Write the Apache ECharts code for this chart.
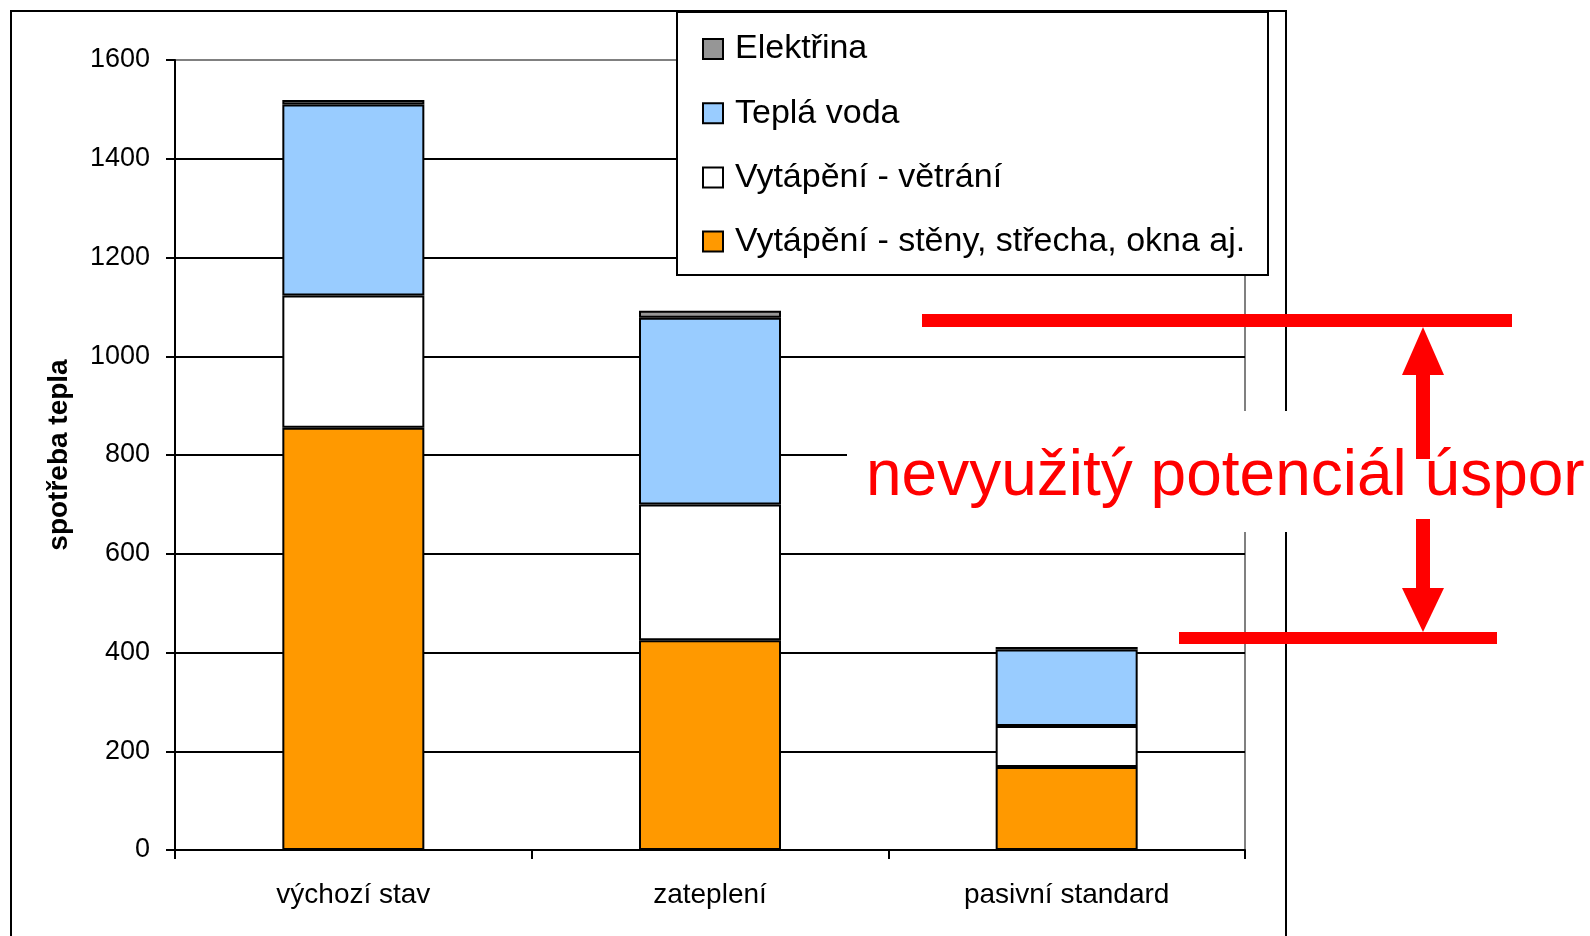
<!DOCTYPE html>
<html>
<head>
<meta charset="utf-8">
<script src="https://cdn.jsdelivr.net/npm/echarts@6/dist/echarts.min.js"></script>
<style>
  html, body { margin: 0; padding: 0; background: #fff; }
  #main { width: 1590px; height: 936px; }
</style>
</head>
<body>
<div id="main"></div>
<script>
var categories = ['výchozí stav', 'zateplení', 'pasivní standard'];
var steny = [855, 425, 168];      // Vytápění - stěny, střecha, okna aj.
var vetrani = [268, 275, 83];     // Vytápění - větrání
var teplaVoda = [387, 378, 155];  // Teplá voda
var elektrina = [9, 14, 5];       // Elektřina
var seriesNames = ['Vytápění - stěny, střecha, okna aj.', 'Vytápění - větrání', 'Teplá voda', 'Elektřina'];
var yTicks = [0, 200, 400, 600, 800, 1000, 1200, 1400, 1600];

var font = "'Liberation Sans', Arial, sans-serif";
var chart = echarts.init(document.getElementById('main'));

function bar(name, data, color) {
    return {
        name: name,
        type: 'bar',
        stack: 'total',
        barWidth: 142,
        data: data,
        itemStyle: { color: color, borderColor: '#000', borderWidth: 2 },
        emphasis: { disabled: true }
    };
}

var gridColors = yTicks.map(function (v, i) {
    return i === yTicks.length - 1 ? '#808080' : '#000';
});

var option = {
    animation: false,
    backgroundColor: '#fff',
    textStyle: { fontFamily: font },
    grid: {
        left: 175, right: 345, top: 60, bottom: 86,
        show: true, borderColor: '#808080', borderWidth: 2,
        backgroundColor: 'transparent'
    },
    legend: {
        orient: 'vertical',
        left: 697,
        top: 27,
        itemGap: 30.2,
        itemWidth: 20,
        itemHeight: 20,
        icon: 'rect',
        z: 6,
        selectedMode: false,
        data: seriesNames.slice().reverse(),
        itemStyle: { borderColor: '#000', borderWidth: 2 },
        textStyle: { fontSize: 34, color: '#000', fontFamily: font, padding: [0, 0, 0, 7] }
    },
    xAxis: {
        type: 'category',
        data: categories,
        axisLine: { lineStyle: { color: '#000', width: 2 } },
        axisTick: { show: true, length: 9, lineStyle: { color: '#000', width: 2 } },
        axisLabel: { fontSize: 28, color: '#000', margin: 31, fontFamily: font }
    },
    yAxis: {
        type: 'value',
        min: 0, max: 1600, interval: 200,
        name: 'spotřeba tepla',
        nameLocation: 'middle',
        nameGap: 102,
        nameRotate: 90,
        nameTextStyle: { fontSize: 28, fontWeight: 'bold', color: '#000', fontFamily: font },
        axisLine: { show: true, lineStyle: { color: '#000', width: 2 } },
        axisTick: { show: true, length: 9, lineStyle: { color: '#000', width: 2 } },
        axisLabel: {
            fontSize: 27, color: '#000', margin: 25, fontFamily: font,
            formatter: function (v) { return String(v); }
        },
        splitLine: { show: true, lineStyle: { color: gridColors, width: 2 } }
    },
    series: [
        bar(seriesNames[0], steny, '#FF9900'),
        bar(seriesNames[1], vetrani, '#FFFFFF'),
        bar(seriesNames[2], teplaVoda, '#99CCFF'),
        bar(seriesNames[3], elektrina, '#969696')
    ],
    graphic: [
        // outer chart frame
        { type: 'rect', z: 1, silent: true, shape: { x: 11, y: 11, width: 1275, height: 1000 },
          style: { fill: 'none', stroke: '#000', lineWidth: 2 } },
        // legend frame
        { type: 'rect', z: 5, silent: true, shape: { x: 677, y: 12, width: 591, height: 263 },
          style: { fill: '#fff', stroke: '#000', lineWidth: 2 } },
        // annotation
        { type: 'rect', z: 10, silent: true, shape: { x: 847, y: 411, width: 760, height: 121 },
          style: { fill: '#fff' } },
        { type: 'text', z: 11, silent: true, x: 866, y: 477,
          style: { text: 'nevyužitý potenciál úspor', fill: '#FF0000', font: '64px ' + font, verticalAlign: 'middle' } },
        { type: 'rect', z: 12, silent: true, shape: { x: 922, y: 314, width: 590, height: 13 },
          style: { fill: '#FF0000' } },
        { type: 'polygon', z: 12, silent: true, shape: { points: [[1423, 327], [1444, 375], [1402, 375]] },
          style: { fill: '#FF0000' } },
        { type: 'rect', z: 12, silent: true, shape: { x: 1416, y: 374, width: 14, height: 85 },
          style: { fill: '#FF0000' } },
        { type: 'rect', z: 12, silent: true, shape: { x: 1416, y: 519, width: 14, height: 70 },
          style: { fill: '#FF0000' } },
        { type: 'polygon', z: 12, silent: true, shape: { points: [[1402, 588], [1444, 588], [1423, 632]] },
          style: { fill: '#FF0000' } },
        { type: 'rect', z: 12, silent: true, shape: { x: 1179, y: 632, width: 318, height: 12 },
          style: { fill: '#FF0000' } }
    ]
};
chart.setOption(option);

window.onresize = function () {
    chart.resize();
};
</script>
</body>
</html>
